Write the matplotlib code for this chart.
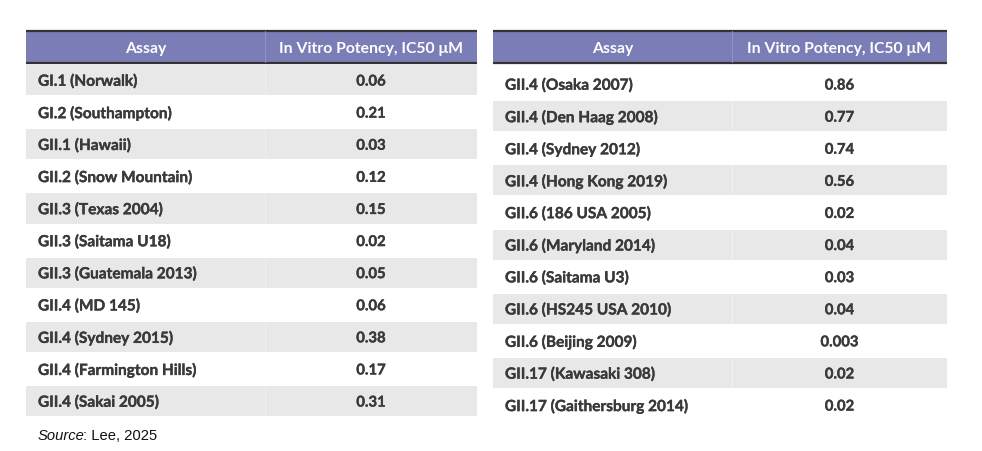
import matplotlib.pyplot as plt
from matplotlib.patches import Rectangle
import matplotlib.patheffects as pe

left_assays = [
    "GI.1 (Norwalk)", "GI.2 (Southampton)", "GII.1 (Hawaii)",
    "GII.2 (Snow Mountain)", "GII.3 (Texas 2004)", "GII.3 (Saitama U18)",
    "GII.3 (Guatemala 2013)", "GII.4 (MD 145)", "GII.4 (Sydney 2015)",
    "GII.4 (Farmington Hills)", "GII.4 (Sakai 2005)",
]
left_ic50 = ["0.06", "0.21", "0.03", "0.12", "0.15", "0.02",
             "0.05", "0.06", "0.38", "0.17", "0.31"]

right_assays = [
    "GII.4 (Osaka 2007)", "GII.4 (Den Haag 2008)", "GII.4 (Sydney 2012)",
    "GII.4 (Hong Kong 2019)", "GII.6 (186 USA 2005)", "GII.6 (Maryland 2014)",
    "GII.6 (Saitama U3)", "GII.6 (HS245 USA 2010)", "GII.6 (Beijing 2009)",
    "GII.17 (Kawasaki 308)", "GII.17 (Gaithersburg 2014)",
]
right_ic50 = ["0.86", "0.77", "0.74", "0.56", "0.02", "0.04",
              "0.03", "0.04", "0.003", "0.02", "0.02"]

headers = ["Assay", "In Vitro Potency, IC50 \u03bcM"]

HEAD_COLOR = "#7b7eb6"
STRIPE = "#e8e8e8"
TEXT = "#3a3a3a"
FONT = "Lato"
heavy = [pe.withStroke(linewidth=0.25, foreground=TEXT)]

fig = plt.figure(figsize=(9.82, 4.52), dpi=100)
ax = fig.add_axes([0, 0, 1, 1])
ax.set_xlim(0, 982)
ax.set_ylim(452, 0)
ax.axis("off")


def draw_table(x0, x_mid, x1, row_top, pitch, assays, values, gray_first):
    # header band with dark rules
    ax.add_patch(Rectangle((x0, 32), x1 - x0, 31, color=HEAD_COLOR, lw=0))
    ax.plot([x0, x1], [32, 32], color="#333333", lw=1.6, solid_capstyle="butt")
    ax.plot([x0, x1], [64, 64], color="#333333", lw=1.6, solid_capstyle="butt")
    ax.plot([x_mid, x_mid], [32, 63], color="#9496c6", lw=0.6)
    ax.text((x0 + x_mid) / 2, 48.5, headers[0], color="white", fontsize=11.3,
            fontweight="bold", family=FONT, ha="center", va="center")
    ax.text((x_mid + x1) / 2, 48.5, headers[1], color="white", fontsize=11.3,
            fontweight="bold", family=[FONT, "DejaVu Sans"], ha="center", va="center")

    for i, (name, val) in enumerate(zip(assays, values)):
        top = row_top + i * pitch
        if (i % 2 == 0) == gray_first:
            ax.add_patch(Rectangle((x0, top + 1), x1 - x0, pitch - 2,
                                   color=STRIPE, lw=0))
            ax.plot([x_mid, x_mid], [top + 1, top + pitch - 1],
                    color="#f2f2f2", lw=0.6)
        cy = top + pitch / 2 + 1.5
        ax.text(x0 + 12, cy, name, color=TEXT, fontsize=11.1, fontweight="bold",
                family=FONT, ha="left", va="center", path_effects=heavy)
        ax.text((x_mid + x1) / 2, cy, val, color=TEXT, fontsize=10.7,
                fontweight="bold", family=FONT, ha="center", va="center",
                path_effects=heavy)


draw_table(26, 265, 477, 65, 32.1, left_assays, left_ic50, True)
draw_table(493, 732, 947, 69, 32.1, right_assays, right_ic50, False)

src = ax.text(38, 436, "Source", fontsize=10.6, style="italic",
              family="Liberation Sans", color="#111111", ha="left", va="center")
ax.annotate(": Lee, 2025", xy=(1, 0.5), xycoords=src, xytext=(-1.5, 0),
            textcoords="offset points", fontsize=10.6,
            family="Liberation Sans", color="#111111", ha="left", va="center")

fig.savefig("out.png", dpi=100, facecolor="white")
